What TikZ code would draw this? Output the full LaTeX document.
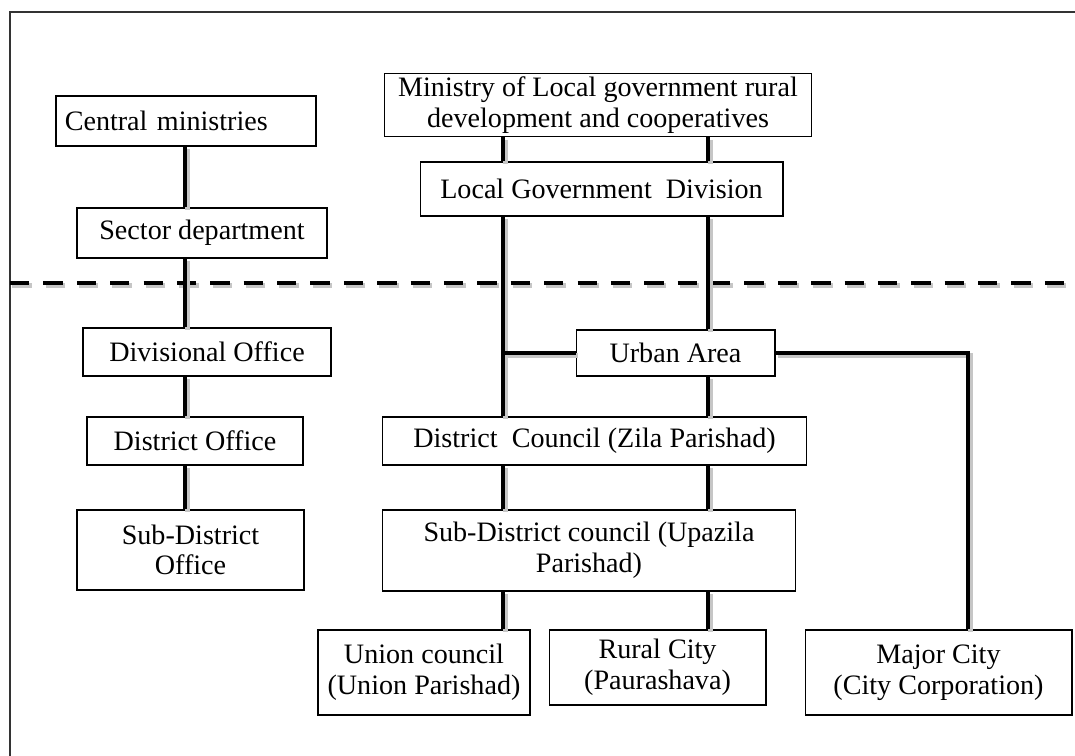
\documentclass[tikz,border=0pt]{standalone}
\usepackage{fontspec}
\setmainfont{Liberation Serif}
\usetikzlibrary{positioning, calc}

\begin{document}
\begin{tikzpicture}[
  x=0.02cm, y=-0.02cm,
  box/.style  = {rectangle, draw=black, line width=0.6pt, fill=white,
                 align=center, inner sep=2pt,
                 font=\fontsize{16}{17.5}\selectfont},
  link/.style = {line width=2.6pt, black,
                 preaction={draw=gray!45, line width=2.6pt,
                            transform canvas={xshift=1.3pt, yshift=-1.3pt}}},
  cut/.style  = {line width=2.6pt, black, dash pattern=on 11pt off 8pt,
                 preaction={draw=gray!45, line width=2.6pt, dash pattern=on 11pt off 8pt,
                            transform canvas={xshift=1.3pt, yshift=-1.3pt}}}
]
\useasboundingbox (0,0) rectangle (1075,756);
\draw[black!80, line width=1.1pt] (10,12) rectangle (1090,770);

% sector side
\node[box, minimum width=5.2cm,  minimum height=1.0cm, align=left, text width=4.85cm]
                                                     (cm)    at (186,121)   {Central ministries};
\node[box, minimum width=5.0cm,  minimum height=1.0cm]  (sd)    at (202,233)   {Sector department};
\node[box, minimum width=4.96cm, minimum height=0.96cm] (divo)  at (207,352)   {Divisional Office};
\node[box, minimum width=4.32cm, minimum height=0.96cm] (disto) at (195,441)   {District Office};
\node[box, minimum width=4.54cm, minimum height=1.6cm]  (subo)  at (190.5,550) {Sub-District\\Office};

% local government side
\node[box, minimum width=8.56cm, minimum height=1.0cm]  (min)   at (598,105)   {Ministry of Local government rural\\development and cooperatives};
\node[box, minimum width=7.26cm, minimum height=1.08cm] (lgd)   at (601.5,189) {Local Government\ \ Division};
\node[box, minimum width=3.98cm, minimum height=0.92cm] (urban) at (675.5,353) {Urban Area};
\node[box, minimum width=8.5cm,  minimum height=0.96cm] (dc)    at (594.5,441) {District\ \ Council (Zila Parishad)};
\node[box, minimum width=8.28cm, minimum height=1.62cm] (sdc)   at (589,550.5) {Sub-District council (Upazila\\Parishad)};
\node[box, minimum width=4.24cm, minimum height=1.7cm]  (uc)    at (424,672.5) {Union council\\(Union Parishad)};
\node[box, minimum width=4.34cm, minimum height=1.5cm]  (rc)    at (657.5,667.5) {Rural City\\(Paurashava)};
\node[box, minimum width=5.34cm, minimum height=1.7cm]  (mc)    at (938.5,672.5) {Major City\\(City Corporation)};

\coordinate (xL) at (185,0);
\coordinate (xM) at (503,0);
\coordinate (xR) at (708,0);
\coordinate (xF) at (968,0);
\coordinate (fork) at (xM |- urban.west);
\coordinate (cutL) at (10,283);
\coordinate (cutR) at (1075,283);

\draw[cut] (cutL) -- (cutR);

\draw[link] (cm.south -| xL)    -- (sd.north -| xL);
\draw[link] (sd.south -| xL)    -- (divo.north -| xL);
\draw[link] (divo.south -| xL)  -- (disto.north -| xL);
\draw[link] (disto.south -| xL) -- (subo.north -| xL);

\draw[link] (min.south -| xM)   -- (lgd.north -| xM);
\draw[link] (lgd.south -| xM)   -- (dc.north -| xM);
\draw[link] (dc.south -| xM)    -- (sdc.north -| xM);
\draw[link] (sdc.south -| xM)   -- (uc.north -| xM);
\draw[link] (fork)              -- (urban.west);

\draw[link] (min.south -| xR)   -- (lgd.north -| xR);
\draw[link] (lgd.south -| xR)   -- (urban.north -| xR);
\draw[link] (urban.south -| xR) -- (dc.north -| xR);
\draw[link] (dc.south -| xR)    -- (sdc.north -| xR);
\draw[link] (sdc.south -| xR)   -- (rc.north -| xR);
\draw[link] (urban.east)        -| (mc.north -| xF);
\end{tikzpicture}
\end{document}
